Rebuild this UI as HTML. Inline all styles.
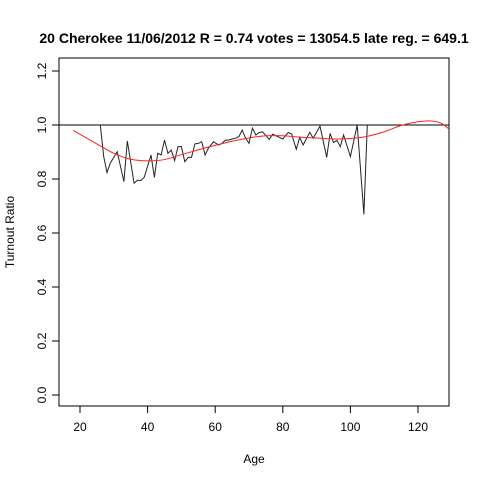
<!DOCTYPE html>
<html><head><meta charset="utf-8"><style>
html,body{margin:0;padding:0;background:#fff;}
svg text{font-family:"Liberation Sans",Arial,sans-serif;}
</style></head><body>
<svg id="chart" width="480" height="480" xmlns="http://www.w3.org/2000/svg">
<defs><clipPath id="plotclip"><rect x="59" y="58" width="390" height="348"/></clipPath></defs>
<text x="254" y="43" text-anchor="middle" font-size="14" font-weight="bold">20 Cherokee 11/06/2012 R = 0.74 votes = 13054.5 late reg. = 649.1</text>
<rect x="59" y="58" width="390" height="348" fill="none" stroke="#000"/>
<g id="xaxis"></g>
<g id="yaxis"></g>
<text x="254" y="463" text-anchor="middle" font-size="12">Age</text>
<text transform="translate(14,232) rotate(-90)" text-anchor="middle" font-size="12">Turnout Ratio</text>
<g clip-path="url(#plotclip)">
<line id="refline" stroke="#000" stroke-width="1"/>
<path id="dataline" fill="none" stroke="#222" stroke-width="1"/>
<path id="fitline" fill="none" stroke="#ff2020" stroke-width="1"/>
</g>
</svg>
<script>
const ages=[26,27,28,29,30,31,33,34,36,37,38,39,41,42,43,44,45,46,47,48,49,50,51,52,53,54,55,56,57,58,59.5,61,62,63,64,65,66,67,68,69,70,71,72,73,74,76,77,78,80,81.6,82.6,84,85,86,88,89,91,93,94,95,96,97,98,100,102,104,105];
const ratios=[1.0,0.883,0.824,0.86,0.88,0.901,0.79,0.941,0.784,0.796,0.794,0.806,0.889,0.806,0.895,0.889,0.944,0.895,0.907,0.868,0.92,0.92,0.864,0.88,0.88,0.93,0.932,0.938,0.889,0.914,0.938,0.926,0.932,0.944,0.944,0.948,0.951,0.957,0.981,0.951,0.932,0.988,0.963,0.972,0.975,0.947,0.966,0.96,0.948,0.972,0.967,0.91,0.954,0.926,0.973,0.951,0.996,0.88,0.969,0.935,0.943,0.92,0.963,0.883,1.0,0.669,1.0];
const fitAges=[18,25,30,35,40,45,50,55,60,65,70,75,80,85,90,95,100,105,110,115,120,124,127,130];
const fitVals=[0.98,0.93,0.895,0.873,0.867,0.872,0.89,0.908,0.925,0.94,0.952,0.96,0.96,0.955,0.952,0.948,0.95,0.958,0.975,0.998,1.012,1.015,1.006,0.975];
const xTicks=[20,40,60,80,100,120];
const yTicks=[0.0,0.2,0.4,0.6,0.8,1.0,1.2];
const refValue=1.0;
function sx(a){return 80+(a-20)*3.38;}
function sy(v){return 395-v*270;}
const NS="http://www.w3.org/2000/svg";
function mk(t,attrs,parent){const e=document.createElementNS(NS,t);for(const k in attrs)e.setAttribute(k,attrs[k]);parent.appendChild(e);return e;}
const xa=document.getElementById('xaxis');
mk('line',{x1:sx(20),x2:sx(120),y1:406,y2:406,stroke:'#000'},xa);
xTicks.forEach(t=>{
 const l=mk('line',{x1:sx(t),x2:sx(t),y1:406,y2:413,stroke:'#000'},xa);
 
 
 const tx=mk('text',{x:sx(t),y:431,'text-anchor':'middle','font-size':12},xa);
 tx.textContent=t;
 
 
});
const ya=document.getElementById('yaxis');
mk('line',{x1:59,x2:59,y1:sy(0),y2:sy(1.2),stroke:'#000'},ya);
yTicks.forEach(t=>{
 const l=mk('line',{x1:52,x2:59,y1:sy(t),y2:sy(t),stroke:'#000'},ya);
 
 
 const tx=mk('text',{transform:`translate(46,${sy(t)}) rotate(-90)`,'text-anchor':'middle','font-size':12},ya);
 tx.textContent=t.toFixed(1);
 
 
});
const rl=document.getElementById('refline');
rl.setAttribute('x1',59);rl.setAttribute('x2',449);rl.setAttribute('y1',sy(refValue));rl.setAttribute('y2',sy(refValue));
document.getElementById('dataline').setAttribute('d',ages.map((a,i)=>(i?'L':'M')+sx(a).toFixed(1)+','+sy(ratios[i]).toFixed(1)).join(''));
// smooth fit via Catmull-Rom
function smooth(xs,ys){let p=xs.map((a,i)=>[sx(a),sy(ys[i])]);let d='M'+p[0].join(',');
 for(let i=0;i<p.length-1;i++){const p0=p[i-1]||p[i],p1=p[i],p2=p[i+1],p3=p[i+2]||p2;
 const c1=[p1[0]+(p2[0]-p0[0])/6,p1[1]+(p2[1]-p0[1])/6],c2=[p2[0]-(p3[0]-p1[0])/6,p2[1]-(p3[1]-p1[1])/6];
 d+='C'+c1.join(',')+' '+c2.join(',')+' '+p2.join(',');}return d;}
document.getElementById('fitline').setAttribute('d',smooth(fitAges,fitVals));
</script>
</body></html>
